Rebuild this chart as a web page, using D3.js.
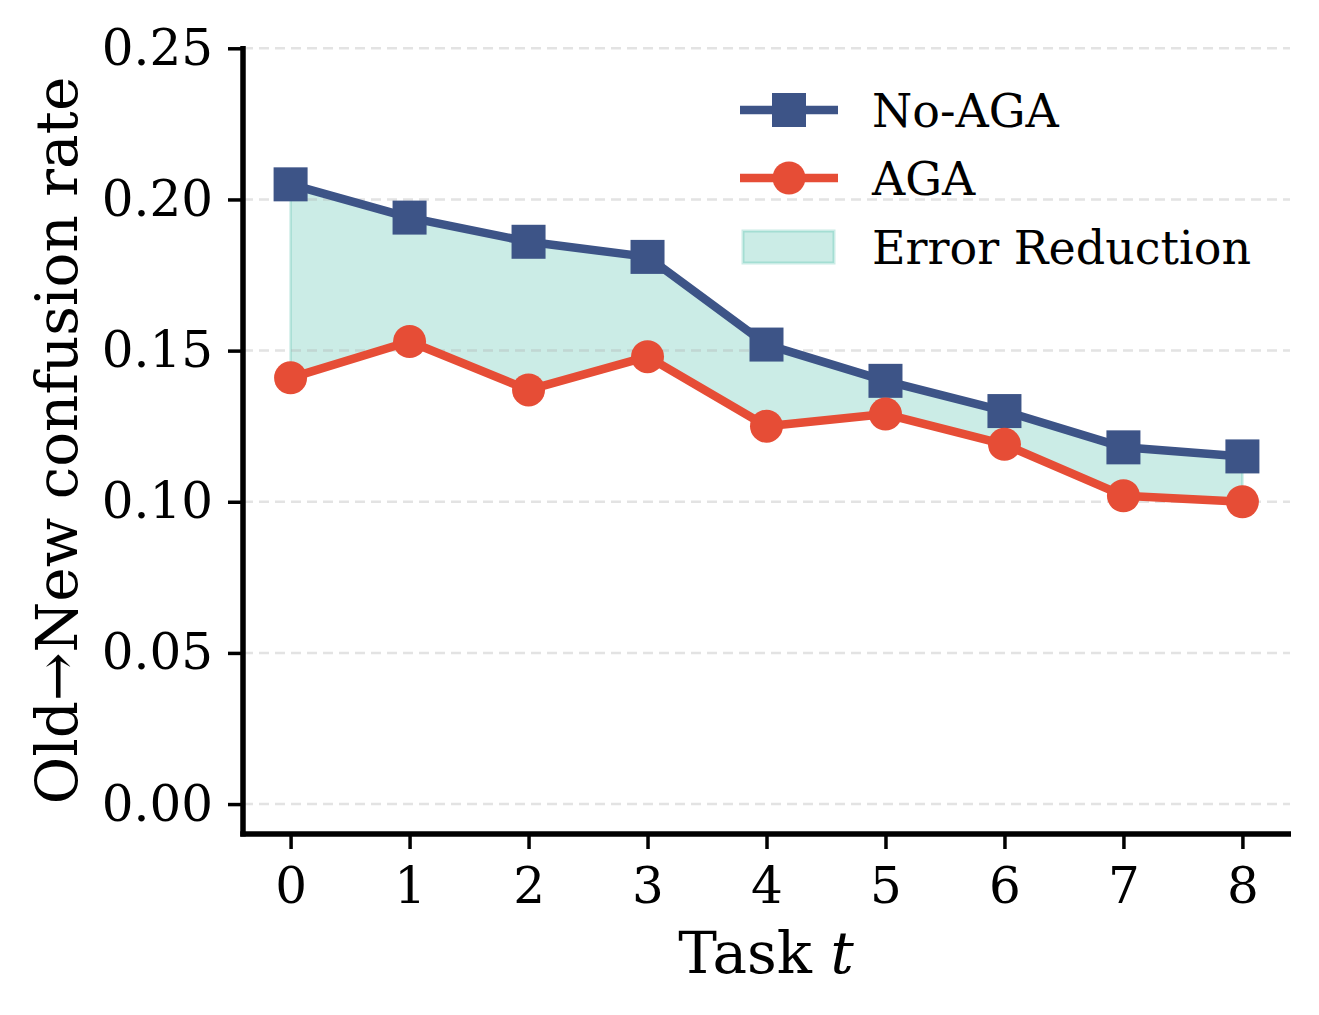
<!DOCTYPE html>
<html>
<head>
<meta charset="utf-8">
<script src="https://cdn.jsdelivr.net/npm/d3@7/dist/d3.min.js"></script>
<style>
  body { margin: 0; background: #fff; }
  svg { display: block; font-family: "DejaVu Serif", serif; }
</style>
</head>
<body>
<div id="chart"></div>
<script>
// task index on the x axis
const tasks = [0, 1, 2, 3, 4, 5, 6, 7, 8];
// confusion rates
const noAgaRates = [0.205, 0.194, 0.186, 0.181, 0.152, 0.140, 0.130, 0.118, 0.115];
const agaRates = [0.141, 0.153, 0.137, 0.148, 0.125, 0.129, 0.119, 0.102, 0.100];
const yTickValues = [0.0, 0.05, 0.10, 0.15, 0.20, 0.25];
const seriesNames = ["No-AGA", "AGA", "Error Reduction"];

const blue = "#3d5487";
const red = "#e64d36";
const teal = "#2fb39b";

const width = 1319, height = 1015;

const svg = d3.select("#chart").append("svg")
  .attr("width", width)
  .attr("height", height);

// scales, pixel ranges set to line up with the axes box
const x = d3.scaleLinear().domain([-0.4, 8.4]).range([243, 1290]);
const y = d3.scaleLinear().domain([-0.0099, 0.25]).range([834, 48.3]);

const data = tasks.map((t, i) => ({ t: t, no: noAgaRates[i], aga: agaRates[i] }));

// shaded gap between the two curves
const area = d3.area()
  .x(d => x(d.t))
  .y0(d => y(d.aga))
  .y1(d => y(d.no));

svg.append("path")
  .datum(data)
  .attr("d", area)
  .attr("fill", teal)
  .attr("fill-opacity", 0.25)
  .attr("stroke", teal)
  .attr("stroke-opacity", 0.25)
  .attr("stroke-width", 2.5);

// dashed horizontal grid
svg.append("g")
  .selectAll("line")
  .data(yTickValues)
  .join("line")
  .attr("x1", x(-0.4))
  .attr("x2", x(8.4))
  .attr("y1", d => y(d))
  .attr("y2", d => y(d))
  .attr("stroke", "#b0b0b0")
  .attr("stroke-opacity", 0.35)
  .attr("stroke-width", 2.5)
  .attr("stroke-dasharray", "10,6");

// the two series
const series = [
  { key: "no", color: blue, marker: "square" },
  { key: "aga", color: red, marker: "circle" }
];

series.forEach(s => {
  const line = d3.line().x(d => x(d.t)).y(d => y(d[s.key]));
  svg.append("path")
    .datum(data)
    .attr("d", line)
    .attr("fill", "none")
    .attr("stroke", s.color)
    .attr("stroke-width", 8.5)
    .attr("stroke-linejoin", "round");

  if (s.marker === "square") {
    svg.append("g").selectAll("rect")
      .data(data)
      .join("rect")
      .attr("x", d => x(d.t) - 17)
      .attr("y", d => y(d[s.key]) - 17)
      .attr("width", 34)
      .attr("height", 34)
      .attr("fill", s.color);
  } else {
    svg.append("g").selectAll("circle")
      .data(data)
      .join("circle")
      .attr("cx", d => x(d.t))
      .attr("cy", d => y(d[s.key]))
      .attr("r", 16.5)
      .attr("fill", s.color);
  }
});

// axes
const yAxis = d3.axisLeft(y)
  .tickValues(yTickValues)
  .tickFormat(d3.format(".2f"))
  .tickSize(15)
  .tickPadding(15);

const yG = svg.append("g")
  .attr("transform", "translate(243,0)")
  .call(yAxis);

const xAxis = d3.axisBottom(x)
  .tickValues(tasks)
  .tickFormat(d3.format("d"))
  .tickSize(15)
  .tickPadding(18);

const xG = svg.append("g")
  .attr("transform", "translate(0,834)")
  .call(xAxis);

[yG, xG].forEach(g => {
  g.select(".domain").remove();
  g.selectAll(".tick line").attr("stroke", "#000").attr("stroke-width", 3.5);
  g.selectAll(".tick text")
    .attr("fill", "#000")
    .style("font-family", "DejaVu Serif")
    .style("font-size", "50px");
});

// spines (left and bottom only)
svg.append("line")
  .attr("x1", 243).attr("x2", 243)
  .attr("y1", 46).attr("y2", 836.5)
  .attr("stroke", "#000").attr("stroke-width", 5.5);
svg.append("line")
  .attr("x1", 240.25).attr("x2", 1291)
  .attr("y1", 834).attr("y2", 834)
  .attr("stroke", "#000").attr("stroke-width", 5.5);

// axis titles
svg.append("text")
  .attr("transform", "translate(77,440.5) rotate(-90)")
  .attr("text-anchor", "middle")
  .style("font-size", "58px")
  .text("Old\u2192New confusion rate");

const xTitle = svg.append("text")
  .attr("x", 766)
  .attr("y", 973)
  .attr("text-anchor", "middle")
  .style("font-size", "58px");
xTitle.append("tspan").text("Task ");
xTitle.append("tspan").style("font-style", "italic").text("t");

// legend
const legend = svg.append("g").attr("class", "legend");
const rowY = [110, 178, 247];

legend.append("line")
  .attr("x1", 740).attr("x2", 838)
  .attr("y1", rowY[0]).attr("y2", rowY[0])
  .attr("stroke", blue).attr("stroke-width", 8.5);
legend.append("rect")
  .attr("x", 789 - 17).attr("y", rowY[0] - 17)
  .attr("width", 34).attr("height", 34)
  .attr("fill", blue);

legend.append("line")
  .attr("x1", 740).attr("x2", 838)
  .attr("y1", rowY[1]).attr("y2", rowY[1])
  .attr("stroke", red).attr("stroke-width", 8.5);
legend.append("circle")
  .attr("cx", 789).attr("cy", rowY[1]).attr("r", 16.5)
  .attr("fill", red);

legend.append("rect")
  .attr("x", 743).attr("y", rowY[2] - 16)
  .attr("width", 91).attr("height", 32)
  .attr("fill", teal).attr("fill-opacity", 0.25)
  .attr("stroke", teal).attr("stroke-opacity", 0.25)
  .attr("stroke-width", 3);

seriesNames.forEach((name, i) => {
  legend.append("text")
    .attr("x", 872)
    .attr("y", rowY[i])
    .attr("dy", "0.36em")
    .style("font-size", "46px")
    .text(name);
});
</script>
</body>
</html>
